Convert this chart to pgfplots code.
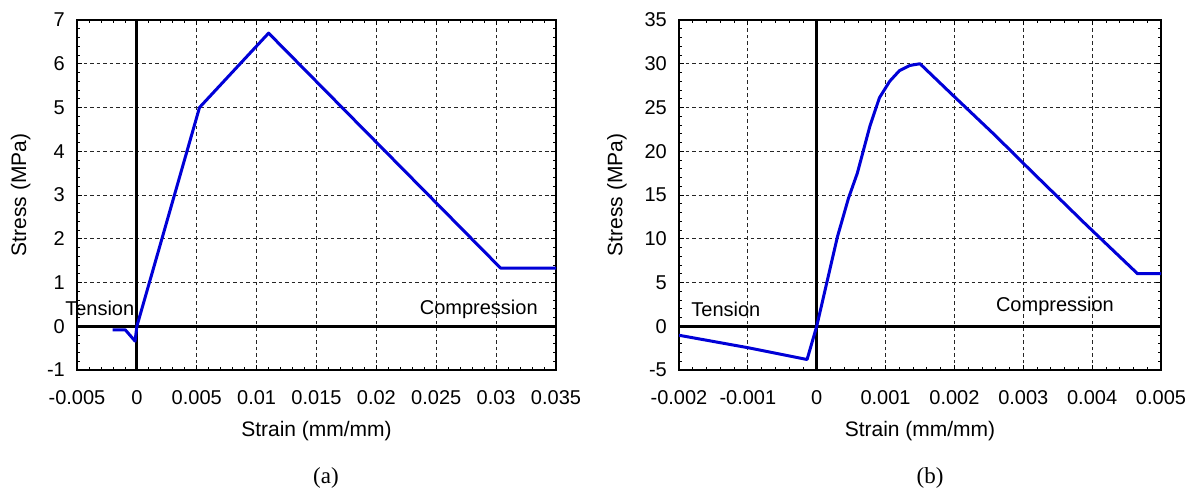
\documentclass[border=0pt]{standalone}
\usepackage{fontspec}
\setmainfont{Liberation Sans}
\newfontfamily\capfont{Liberation Serif}
\usepackage{pgfplots}
\pgfplotsset{compat=1.18}
\definecolor{curve}{RGB}{0,0,215}

\pgfplotsset{
  ssbase/.style={
    scale only axis, clip mode=individual,
    height=350pt,
    scaled x ticks=false, scaled y ticks=false,
    axis line style={line width=1.2pt},
    grid=major,
    major grid style={black!85, line width=0.8pt, dash pattern=on 3.5pt off 3pt},
    minor x tick num=4, minor y tick num=4,
    major tick length=5pt, minor tick length=3pt,
    every tick/.style={black, line width=0.8pt},
    tick align=inside,
    xticklabel style={font=\fontsize{20}{24}\selectfont, inner sep=0pt, anchor=center, yshift=-28pt},
    yticklabel style={font=\fontsize{20}{24}\selectfont, inner sep=0pt, anchor=east, xshift=-12pt},
    label style={font=\fontsize{21}{25}\selectfont},
    xlabel style={at={(axis description cs:0.5,-0.175)}, anchor=center},
    extra x ticks={0}, extra x tick labels={},
    extra y ticks={0}, extra y tick labels={},
    extra tick style={major grid style={solid, black, line width=3pt}, major tick length=0pt},
  },
  sscurve/.style={color=curve, line width=3pt, line join=round, mark=none},
}

\begin{document}
\begin{tikzpicture}
\useasboundingbox (0,0) rectangle (1195pt,490pt);

% (a)
\begin{axis}[ssbase,
  at={(77pt,120pt)}, anchor=south west, width=479pt,
  xmin=-0.005, xmax=0.035, ymin=-1, ymax=7,
  xtick={-0.005,0,0.005,0.01,0.015,0.02,0.025,0.03,0.035},
  xticklabels={-0.005,0,0.005,0.01,0.015,0.02,0.025,0.03,0.035},
  ytick={-1,0,1,2,3,4,5,6,7},
  yticklabels={-1,0,1,2,3,4,5,6,7},
  xlabel={Strain (mm/mm)}, ylabel={Stress (MPa)},
  ylabel style={at={(axis description cs:-0.1175,0.5)}, anchor=center},
]
\addplot[sscurve] coordinates {
  (-0.00202,-0.084) (-0.00096,-0.084) (-0.00015,-0.34) (0,0)
  (0.00523,5.0) (0.0110,6.70) (0.03037,1.33) (0.035,1.33)
};
\node[font=\fontsize{20}{24}\selectfont] at (axis cs:-0.0031,0.40) {Tension};
\node[font=\fontsize{20}{24}\selectfont] at (axis cs:0.02855,0.38) {Compression};
\end{axis}

% (b)
\begin{axis}[ssbase,
  at={(679pt,120pt)}, anchor=south west, width=482pt,
  xmin=-0.002, xmax=0.005, ymin=-5, ymax=35,
  xtick={-0.002,-0.001,0,0.001,0.002,0.003,0.004,0.005},
  xticklabels={-0.002,-0.001,0,0.001,0.002,0.003,0.004,0.005},
  ytick={-5,0,5,10,15,20,25,30,35},
  yticklabels={-5,0,5,10,15,20,25,30,35},
  xlabel={Strain (mm/mm)}, ylabel={Stress (MPa)},
  ylabel style={at={(axis description cs:-0.129,0.5)}, anchor=center},
]
\addplot[sscurve] coordinates {
  (-0.002,-1.03) (-0.001,-2.45) (-0.00014,-3.8) (0,0)
  (0.0003,10.2) (0.00046,14.6) (0.00059,17.5) (0.00077,22.8)
  (0.00091,26.1) (0.00106,28.0) (0.0012,29.2) (0.00135,29.8) (0.0015,30)
  (0.00199,26.3) (0.00258,21.9) (0.00312,17.7) (0.0039,11.7)
  (0.00466,6.0) (0.005,6.0)
};
\node[font=\fontsize{20}{24}\selectfont] at (axis cs:-0.00132,1.97) {Tension};
\node[font=\fontsize{20}{24}\selectfont] at (axis cs:0.00346,2.23) {Compression};
\end{axis}

\node[font=\capfont\fontsize{23}{27}\selectfont] at (326pt,12pt) {(a)};
\node[font=\capfont\fontsize{23}{27}\selectfont] at (930pt,12pt) {(b)};
\end{tikzpicture}
\end{document}
